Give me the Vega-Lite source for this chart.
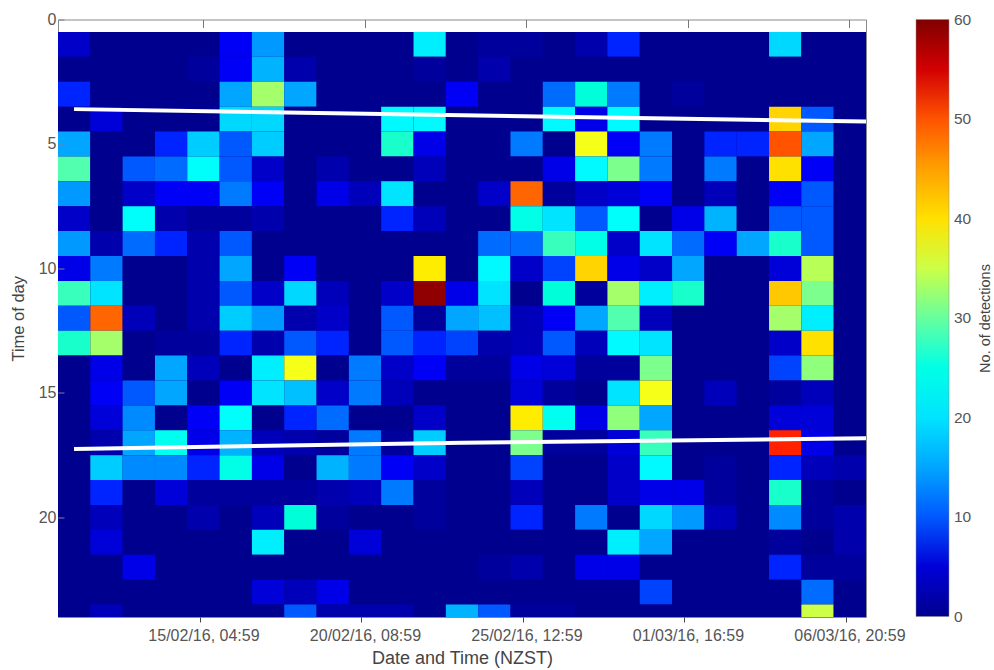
{"$schema":"https://vega.github.io/schema/vega-lite/v6.json","width":808,"height":597.5,"autosize":{"type":"none"},"padding":{"left":58,"top":19.5,"right":128,"bottom":53},"background":"white",
"config":{"view":{"stroke":"#8a8a8a","strokeWidth":1},"font":"Liberation Sans"},
"datasets":{
"hours":[{"h":1,"lo":0.5,"hi":1.5},{"h":2,"lo":1.5,"hi":2.5},{"h":3,"lo":2.5,"hi":3.5},{"h":4,"lo":3.5,"hi":4.5},{"h":5,"lo":4.5,"hi":5.5},{"h":6,"lo":5.5,"hi":6.5},{"h":7,"lo":6.5,"hi":7.5},{"h":8,"lo":7.5,"hi":8.5},{"h":9,"lo":8.5,"hi":9.5},{"h":10,"lo":9.5,"hi":10.5},{"h":11,"lo":10.5,"hi":11.5},{"h":12,"lo":11.5,"hi":12.5},{"h":13,"lo":12.5,"hi":13.5},{"h":14,"lo":13.5,"hi":14.5},{"h":15,"lo":14.5,"hi":15.5},{"h":16,"lo":15.5,"hi":16.5},{"h":17,"lo":16.5,"hi":17.5},{"h":18,"lo":17.5,"hi":18.5},{"h":19,"lo":18.5,"hi":19.5},{"h":20,"lo":19.5,"hi":20.5},{"h":21,"lo":20.5,"hi":21.5},{"h":22,"lo":21.5,"hi":22.5},{"h":23,"lo":22.5,"hi":23.5},{"h":24,"lo":23.5,"hi":24}],
"cells":[
{"t":"2016-02-10T13:17","e":"2016-02-11T14:06","h":1,"v":4},{"t":"2016-02-11T14:06","e":"2016-02-12T14:55","h":1,"v":0},{"t":"2016-02-12T14:55","e":"2016-02-13T15:44","h":1,"v":0},{"t":"2016-02-13T15:44","e":"2016-02-14T16:33","h":1,"v":0},{"t":"2016-02-14T16:33","e":"2016-02-15T17:22","h":1,"v":0},{"t":"2016-02-15T17:22","e":"2016-02-16T18:11","h":1,"v":7},{"t":"2016-02-16T18:11","e":"2016-02-17T19:00","h":1,"v":14},{"t":"2016-02-17T19:00","e":"2016-02-18T19:49","h":1,"v":0},{"t":"2016-02-18T19:49","e":"2016-02-19T20:38","h":1,"v":0},{"t":"2016-02-19T20:38","e":"2016-02-20T21:27","h":1,"v":0},{"t":"2016-02-20T21:27","e":"2016-02-21T22:16","h":1,"v":0},{"t":"2016-02-21T22:16","e":"2016-02-22T23:05","h":1,"v":21},{"t":"2016-02-22T23:05","e":"2016-02-23T23:54","h":1,"v":0},{"t":"2016-02-23T23:54","e":"2016-02-25T00:43","h":1,"v":1},{"t":"2016-02-25T00:43","e":"2016-02-26T01:32","h":1,"v":1},{"t":"2016-02-26T01:32","e":"2016-02-27T02:21","h":1,"v":0},{"t":"2016-02-27T02:21","e":"2016-02-28T03:10","h":1,"v":2},{"t":"2016-02-28T03:10","e":"2016-02-29T03:59","h":1,"v":8},{"t":"2016-02-29T03:59","e":"2016-03-01T04:48","h":1,"v":0},{"t":"2016-03-01T04:48","e":"2016-03-02T05:37","h":1,"v":0},{"t":"2016-03-02T05:37","e":"2016-03-03T06:26","h":1,"v":0},{"t":"2016-03-03T06:26","e":"2016-03-04T07:15","h":1,"v":0},{"t":"2016-03-04T07:15","e":"2016-03-05T08:04","h":1,"v":19},{"t":"2016-03-05T08:04","e":"2016-03-06T08:53","h":1,"v":0},{"t":"2016-03-06T08:53","e":"2016-03-07T09:42","h":1,"v":0},
{"t":"2016-02-10T13:17","e":"2016-02-11T14:06","h":2,"v":0},{"t":"2016-02-11T14:06","e":"2016-02-12T14:55","h":2,"v":0},{"t":"2016-02-12T14:55","e":"2016-02-13T15:44","h":2,"v":0},{"t":"2016-02-13T15:44","e":"2016-02-14T16:33","h":2,"v":0},{"t":"2016-02-14T16:33","e":"2016-02-15T17:22","h":2,"v":1},{"t":"2016-02-15T17:22","e":"2016-02-16T18:11","h":2,"v":7},{"t":"2016-02-16T18:11","e":"2016-02-17T19:00","h":2,"v":16},{"t":"2016-02-17T19:00","e":"2016-02-18T19:49","h":2,"v":2},{"t":"2016-02-18T19:49","e":"2016-02-19T20:38","h":2,"v":0},{"t":"2016-02-19T20:38","e":"2016-02-20T21:27","h":2,"v":0},{"t":"2016-02-20T21:27","e":"2016-02-21T22:16","h":2,"v":0},{"t":"2016-02-21T22:16","e":"2016-02-22T23:05","h":2,"v":1},{"t":"2016-02-22T23:05","e":"2016-02-23T23:54","h":2,"v":0},{"t":"2016-02-23T23:54","e":"2016-02-25T00:43","h":2,"v":2},{"t":"2016-02-25T00:43","e":"2016-02-26T01:32","h":2,"v":0},{"t":"2016-02-26T01:32","e":"2016-02-27T02:21","h":2,"v":0},{"t":"2016-02-27T02:21","e":"2016-02-28T03:10","h":2,"v":0},{"t":"2016-02-28T03:10","e":"2016-02-29T03:59","h":2,"v":0},{"t":"2016-02-29T03:59","e":"2016-03-01T04:48","h":2,"v":0},{"t":"2016-03-01T04:48","e":"2016-03-02T05:37","h":2,"v":0},{"t":"2016-03-02T05:37","e":"2016-03-03T06:26","h":2,"v":0},{"t":"2016-03-03T06:26","e":"2016-03-04T07:15","h":2,"v":0},{"t":"2016-03-04T07:15","e":"2016-03-05T08:04","h":2,"v":0},{"t":"2016-03-05T08:04","e":"2016-03-06T08:53","h":2,"v":0},{"t":"2016-03-06T08:53","e":"2016-03-07T09:42","h":2,"v":0},
{"t":"2016-02-10T13:17","e":"2016-02-11T14:06","h":3,"v":8},{"t":"2016-02-11T14:06","e":"2016-02-12T14:55","h":3,"v":0},{"t":"2016-02-12T14:55","e":"2016-02-13T15:44","h":3,"v":0},{"t":"2016-02-13T15:44","e":"2016-02-14T16:33","h":3,"v":0},{"t":"2016-02-14T16:33","e":"2016-02-15T17:22","h":3,"v":0},{"t":"2016-02-15T17:22","e":"2016-02-16T18:11","h":3,"v":15},{"t":"2016-02-16T18:11","e":"2016-02-17T19:00","h":3,"v":33},{"t":"2016-02-17T19:00","e":"2016-02-18T19:49","h":3,"v":15},{"t":"2016-02-18T19:49","e":"2016-02-19T20:38","h":3,"v":0},{"t":"2016-02-19T20:38","e":"2016-02-20T21:27","h":3,"v":0},{"t":"2016-02-20T21:27","e":"2016-02-21T22:16","h":3,"v":0},{"t":"2016-02-21T22:16","e":"2016-02-22T23:05","h":3,"v":0},{"t":"2016-02-22T23:05","e":"2016-02-23T23:54","h":3,"v":7},{"t":"2016-02-23T23:54","e":"2016-02-25T00:43","h":3,"v":0},{"t":"2016-02-25T00:43","e":"2016-02-26T01:32","h":3,"v":0},{"t":"2016-02-26T01:32","e":"2016-02-27T02:21","h":3,"v":11},{"t":"2016-02-27T02:21","e":"2016-02-28T03:10","h":3,"v":26},{"t":"2016-02-28T03:10","e":"2016-02-29T03:59","h":3,"v":12},{"t":"2016-02-29T03:59","e":"2016-03-01T04:48","h":3,"v":0},{"t":"2016-03-01T04:48","e":"2016-03-02T05:37","h":3,"v":1},{"t":"2016-03-02T05:37","e":"2016-03-03T06:26","h":3,"v":0},{"t":"2016-03-03T06:26","e":"2016-03-04T07:15","h":3,"v":0},{"t":"2016-03-04T07:15","e":"2016-03-05T08:04","h":3,"v":0},{"t":"2016-03-05T08:04","e":"2016-03-06T08:53","h":3,"v":0},{"t":"2016-03-06T08:53","e":"2016-03-07T09:42","h":3,"v":0},
{"t":"2016-02-10T13:17","e":"2016-02-11T14:06","h":4,"v":0},{"t":"2016-02-11T14:06","e":"2016-02-12T14:55","h":4,"v":5},{"t":"2016-02-12T14:55","e":"2016-02-13T15:44","h":4,"v":0},{"t":"2016-02-13T15:44","e":"2016-02-14T16:33","h":4,"v":0},{"t":"2016-02-14T16:33","e":"2016-02-15T17:22","h":4,"v":0},{"t":"2016-02-15T17:22","e":"2016-02-16T18:11","h":4,"v":19},{"t":"2016-02-16T18:11","e":"2016-02-17T19:00","h":4,"v":19},{"t":"2016-02-17T19:00","e":"2016-02-18T19:49","h":4,"v":0},{"t":"2016-02-18T19:49","e":"2016-02-19T20:38","h":4,"v":0},{"t":"2016-02-19T20:38","e":"2016-02-20T21:27","h":4,"v":0},{"t":"2016-02-20T21:27","e":"2016-02-21T22:16","h":4,"v":22},{"t":"2016-02-21T22:16","e":"2016-02-22T23:05","h":4,"v":22},{"t":"2016-02-22T23:05","e":"2016-02-23T23:54","h":4,"v":0},{"t":"2016-02-23T23:54","e":"2016-02-25T00:43","h":4,"v":0},{"t":"2016-02-25T00:43","e":"2016-02-26T01:32","h":4,"v":0},{"t":"2016-02-26T01:32","e":"2016-02-27T02:21","h":4,"v":22},{"t":"2016-02-27T02:21","e":"2016-02-28T03:10","h":4,"v":6},{"t":"2016-02-28T03:10","e":"2016-02-29T03:59","h":4,"v":22},{"t":"2016-02-29T03:59","e":"2016-03-01T04:48","h":4,"v":0},{"t":"2016-03-01T04:48","e":"2016-03-02T05:37","h":4,"v":0},{"t":"2016-03-02T05:37","e":"2016-03-03T06:26","h":4,"v":0},{"t":"2016-03-03T06:26","e":"2016-03-04T07:15","h":4,"v":0},{"t":"2016-03-04T07:15","e":"2016-03-05T08:04","h":4,"v":41},{"t":"2016-03-05T08:04","e":"2016-03-06T08:53","h":4,"v":10},{"t":"2016-03-06T08:53","e":"2016-03-07T09:42","h":4,"v":0},
{"t":"2016-02-10T13:17","e":"2016-02-11T14:06","h":5,"v":15},{"t":"2016-02-11T14:06","e":"2016-02-12T14:55","h":5,"v":0},{"t":"2016-02-12T14:55","e":"2016-02-13T15:44","h":5,"v":0},{"t":"2016-02-13T15:44","e":"2016-02-14T16:33","h":5,"v":8},{"t":"2016-02-14T16:33","e":"2016-02-15T17:22","h":5,"v":18},{"t":"2016-02-15T17:22","e":"2016-02-16T18:11","h":5,"v":10},{"t":"2016-02-16T18:11","e":"2016-02-17T19:00","h":5,"v":18},{"t":"2016-02-17T19:00","e":"2016-02-18T19:49","h":5,"v":0},{"t":"2016-02-18T19:49","e":"2016-02-19T20:38","h":5,"v":0},{"t":"2016-02-19T20:38","e":"2016-02-20T21:27","h":5,"v":0},{"t":"2016-02-20T21:27","e":"2016-02-21T22:16","h":5,"v":27},{"t":"2016-02-21T22:16","e":"2016-02-22T23:05","h":5,"v":6},{"t":"2016-02-22T23:05","e":"2016-02-23T23:54","h":5,"v":0},{"t":"2016-02-23T23:54","e":"2016-02-25T00:43","h":5,"v":0},{"t":"2016-02-25T00:43","e":"2016-02-26T01:32","h":5,"v":12},{"t":"2016-02-26T01:32","e":"2016-02-27T02:21","h":5,"v":0},{"t":"2016-02-27T02:21","e":"2016-02-28T03:10","h":5,"v":37},{"t":"2016-02-28T03:10","e":"2016-02-29T03:59","h":5,"v":7},{"t":"2016-02-29T03:59","e":"2016-03-01T04:48","h":5,"v":12},{"t":"2016-03-01T04:48","e":"2016-03-02T05:37","h":5,"v":0},{"t":"2016-03-02T05:37","e":"2016-03-03T06:26","h":5,"v":8},{"t":"2016-03-03T06:26","e":"2016-03-04T07:15","h":5,"v":8},{"t":"2016-03-04T07:15","e":"2016-03-05T08:04","h":5,"v":50},{"t":"2016-03-05T08:04","e":"2016-03-06T08:53","h":5,"v":15},{"t":"2016-03-06T08:53","e":"2016-03-07T09:42","h":5,"v":0},
{"t":"2016-02-10T13:17","e":"2016-02-11T14:06","h":6,"v":29},{"t":"2016-02-11T14:06","e":"2016-02-12T14:55","h":6,"v":0},{"t":"2016-02-12T14:55","e":"2016-02-13T15:44","h":6,"v":10},{"t":"2016-02-13T15:44","e":"2016-02-14T16:33","h":6,"v":11},{"t":"2016-02-14T16:33","e":"2016-02-15T17:22","h":6,"v":23},{"t":"2016-02-15T17:22","e":"2016-02-16T18:11","h":6,"v":10},{"t":"2016-02-16T18:11","e":"2016-02-17T19:00","h":6,"v":4},{"t":"2016-02-17T19:00","e":"2016-02-18T19:49","h":6,"v":0},{"t":"2016-02-18T19:49","e":"2016-02-19T20:38","h":6,"v":2},{"t":"2016-02-19T20:38","e":"2016-02-20T21:27","h":6,"v":0},{"t":"2016-02-20T21:27","e":"2016-02-21T22:16","h":6,"v":0},{"t":"2016-02-21T22:16","e":"2016-02-22T23:05","h":6,"v":3},{"t":"2016-02-22T23:05","e":"2016-02-23T23:54","h":6,"v":0},{"t":"2016-02-23T23:54","e":"2016-02-25T00:43","h":6,"v":0},{"t":"2016-02-25T00:43","e":"2016-02-26T01:32","h":6,"v":0},{"t":"2016-02-26T01:32","e":"2016-02-27T02:21","h":6,"v":6},{"t":"2016-02-27T02:21","e":"2016-02-28T03:10","h":6,"v":22},{"t":"2016-02-28T03:10","e":"2016-02-29T03:59","h":6,"v":31},{"t":"2016-02-29T03:59","e":"2016-03-01T04:48","h":6,"v":12},{"t":"2016-03-01T04:48","e":"2016-03-02T05:37","h":6,"v":0},{"t":"2016-03-02T05:37","e":"2016-03-03T06:26","h":6,"v":12},{"t":"2016-03-03T06:26","e":"2016-03-04T07:15","h":6,"v":0},{"t":"2016-03-04T07:15","e":"2016-03-05T08:04","h":6,"v":40},{"t":"2016-03-05T08:04","e":"2016-03-06T08:53","h":6,"v":7},{"t":"2016-03-06T08:53","e":"2016-03-07T09:42","h":6,"v":0},
{"t":"2016-02-10T13:17","e":"2016-02-11T14:06","h":7,"v":14},{"t":"2016-02-11T14:06","e":"2016-02-12T14:55","h":7,"v":0},{"t":"2016-02-12T14:55","e":"2016-02-13T15:44","h":7,"v":4},{"t":"2016-02-13T15:44","e":"2016-02-14T16:33","h":7,"v":7},{"t":"2016-02-14T16:33","e":"2016-02-15T17:22","h":7,"v":7},{"t":"2016-02-15T17:22","e":"2016-02-16T18:11","h":7,"v":12},{"t":"2016-02-16T18:11","e":"2016-02-17T19:00","h":7,"v":7},{"t":"2016-02-17T19:00","e":"2016-02-18T19:49","h":7,"v":0},{"t":"2016-02-18T19:49","e":"2016-02-19T20:38","h":7,"v":6},{"t":"2016-02-19T20:38","e":"2016-02-20T21:27","h":7,"v":3},{"t":"2016-02-20T21:27","e":"2016-02-21T22:16","h":7,"v":20},{"t":"2016-02-21T22:16","e":"2016-02-22T23:05","h":7,"v":0},{"t":"2016-02-22T23:05","e":"2016-02-23T23:54","h":7,"v":0},{"t":"2016-02-23T23:54","e":"2016-02-25T00:43","h":7,"v":4},{"t":"2016-02-25T00:43","e":"2016-02-26T01:32","h":7,"v":49},{"t":"2016-02-26T01:32","e":"2016-02-27T02:21","h":7,"v":1},{"t":"2016-02-27T02:21","e":"2016-02-28T03:10","h":7,"v":4},{"t":"2016-02-28T03:10","e":"2016-02-29T03:59","h":7,"v":5},{"t":"2016-02-29T03:59","e":"2016-03-01T04:48","h":7,"v":7},{"t":"2016-03-01T04:48","e":"2016-03-02T05:37","h":7,"v":0},{"t":"2016-03-02T05:37","e":"2016-03-03T06:26","h":7,"v":3},{"t":"2016-03-03T06:26","e":"2016-03-04T07:15","h":7,"v":0},{"t":"2016-03-04T07:15","e":"2016-03-05T08:04","h":7,"v":7},{"t":"2016-03-05T08:04","e":"2016-03-06T08:53","h":7,"v":10},{"t":"2016-03-06T08:53","e":"2016-03-07T09:42","h":7,"v":0},
{"t":"2016-02-10T13:17","e":"2016-02-11T14:06","h":8,"v":4},{"t":"2016-02-11T14:06","e":"2016-02-12T14:55","h":8,"v":0},{"t":"2016-02-12T14:55","e":"2016-02-13T15:44","h":8,"v":23},{"t":"2016-02-13T15:44","e":"2016-02-14T16:33","h":8,"v":2},{"t":"2016-02-14T16:33","e":"2016-02-15T17:22","h":8,"v":1},{"t":"2016-02-15T17:22","e":"2016-02-16T18:11","h":8,"v":1},{"t":"2016-02-16T18:11","e":"2016-02-17T19:00","h":8,"v":2},{"t":"2016-02-17T19:00","e":"2016-02-18T19:49","h":8,"v":0},{"t":"2016-02-18T19:49","e":"2016-02-19T20:38","h":8,"v":0},{"t":"2016-02-19T20:38","e":"2016-02-20T21:27","h":8,"v":0},{"t":"2016-02-20T21:27","e":"2016-02-21T22:16","h":8,"v":8},{"t":"2016-02-21T22:16","e":"2016-02-22T23:05","h":8,"v":3},{"t":"2016-02-22T23:05","e":"2016-02-23T23:54","h":8,"v":0},{"t":"2016-02-23T23:54","e":"2016-02-25T00:43","h":8,"v":0},{"t":"2016-02-25T00:43","e":"2016-02-26T01:32","h":8,"v":25},{"t":"2016-02-26T01:32","e":"2016-02-27T02:21","h":8,"v":20},{"t":"2016-02-27T02:21","e":"2016-02-28T03:10","h":8,"v":10},{"t":"2016-02-28T03:10","e":"2016-02-29T03:59","h":8,"v":23},{"t":"2016-02-29T03:59","e":"2016-03-01T04:48","h":8,"v":0},{"t":"2016-03-01T04:48","e":"2016-03-02T05:37","h":8,"v":6},{"t":"2016-03-02T05:37","e":"2016-03-03T06:26","h":8,"v":16},{"t":"2016-03-03T06:26","e":"2016-03-04T07:15","h":8,"v":0},{"t":"2016-03-04T07:15","e":"2016-03-05T08:04","h":8,"v":10},{"t":"2016-03-05T08:04","e":"2016-03-06T08:53","h":8,"v":10},{"t":"2016-03-06T08:53","e":"2016-03-07T09:42","h":8,"v":0},
{"t":"2016-02-10T13:17","e":"2016-02-11T14:06","h":9,"v":14},{"t":"2016-02-11T14:06","e":"2016-02-12T14:55","h":9,"v":2},{"t":"2016-02-12T14:55","e":"2016-02-13T15:44","h":9,"v":11},{"t":"2016-02-13T15:44","e":"2016-02-14T16:33","h":9,"v":8},{"t":"2016-02-14T16:33","e":"2016-02-15T17:22","h":9,"v":2},{"t":"2016-02-15T17:22","e":"2016-02-16T18:11","h":9,"v":10},{"t":"2016-02-16T18:11","e":"2016-02-17T19:00","h":9,"v":0},{"t":"2016-02-17T19:00","e":"2016-02-18T19:49","h":9,"v":0},{"t":"2016-02-18T19:49","e":"2016-02-19T20:38","h":9,"v":0},{"t":"2016-02-19T20:38","e":"2016-02-20T21:27","h":9,"v":0},{"t":"2016-02-20T21:27","e":"2016-02-21T22:16","h":9,"v":0},{"t":"2016-02-21T22:16","e":"2016-02-22T23:05","h":9,"v":0},{"t":"2016-02-22T23:05","e":"2016-02-23T23:54","h":9,"v":0},{"t":"2016-02-23T23:54","e":"2016-02-25T00:43","h":9,"v":11},{"t":"2016-02-25T00:43","e":"2016-02-26T01:32","h":9,"v":11},{"t":"2016-02-26T01:32","e":"2016-02-27T02:21","h":9,"v":28},{"t":"2016-02-27T02:21","e":"2016-02-28T03:10","h":9,"v":25},{"t":"2016-02-28T03:10","e":"2016-02-29T03:59","h":9,"v":4},{"t":"2016-02-29T03:59","e":"2016-03-01T04:48","h":9,"v":20},{"t":"2016-03-01T04:48","e":"2016-03-02T05:37","h":9,"v":11},{"t":"2016-03-02T05:37","e":"2016-03-03T06:26","h":9,"v":7},{"t":"2016-03-03T06:26","e":"2016-03-04T07:15","h":9,"v":15},{"t":"2016-03-04T07:15","e":"2016-03-05T08:04","h":9,"v":27},{"t":"2016-03-05T08:04","e":"2016-03-06T08:53","h":9,"v":10},{"t":"2016-03-06T08:53","e":"2016-03-07T09:42","h":9,"v":0},
{"t":"2016-02-10T13:17","e":"2016-02-11T14:06","h":10,"v":6},{"t":"2016-02-11T14:06","e":"2016-02-12T14:55","h":10,"v":12},{"t":"2016-02-12T14:55","e":"2016-02-13T15:44","h":10,"v":0},{"t":"2016-02-13T15:44","e":"2016-02-14T16:33","h":10,"v":0},{"t":"2016-02-14T16:33","e":"2016-02-15T17:22","h":10,"v":2},{"t":"2016-02-15T17:22","e":"2016-02-16T18:11","h":10,"v":15},{"t":"2016-02-16T18:11","e":"2016-02-17T19:00","h":10,"v":0},{"t":"2016-02-17T19:00","e":"2016-02-18T19:49","h":10,"v":7},{"t":"2016-02-18T19:49","e":"2016-02-19T20:38","h":10,"v":0},{"t":"2016-02-19T20:38","e":"2016-02-20T21:27","h":10,"v":0},{"t":"2016-02-20T21:27","e":"2016-02-21T22:16","h":10,"v":0},{"t":"2016-02-21T22:16","e":"2016-02-22T23:05","h":10,"v":39},{"t":"2016-02-22T23:05","e":"2016-02-23T23:54","h":10,"v":0},{"t":"2016-02-23T23:54","e":"2016-02-25T00:43","h":10,"v":22},{"t":"2016-02-25T00:43","e":"2016-02-26T01:32","h":10,"v":4},{"t":"2016-02-26T01:32","e":"2016-02-27T02:21","h":10,"v":9},{"t":"2016-02-27T02:21","e":"2016-02-28T03:10","h":10,"v":41},{"t":"2016-02-28T03:10","e":"2016-02-29T03:59","h":10,"v":6},{"t":"2016-02-29T03:59","e":"2016-03-01T04:48","h":10,"v":4},{"t":"2016-03-01T04:48","e":"2016-03-02T05:37","h":10,"v":15},{"t":"2016-03-02T05:37","e":"2016-03-03T06:26","h":10,"v":0},{"t":"2016-03-03T06:26","e":"2016-03-04T07:15","h":10,"v":0},{"t":"2016-03-04T07:15","e":"2016-03-05T08:04","h":10,"v":5},{"t":"2016-03-05T08:04","e":"2016-03-06T08:53","h":10,"v":34},{"t":"2016-03-06T08:53","e":"2016-03-07T09:42","h":10,"v":0},
{"t":"2016-02-10T13:17","e":"2016-02-11T14:06","h":11,"v":28},{"t":"2016-02-11T14:06","e":"2016-02-12T14:55","h":11,"v":20},{"t":"2016-02-12T14:55","e":"2016-02-13T15:44","h":11,"v":0},{"t":"2016-02-13T15:44","e":"2016-02-14T16:33","h":11,"v":0},{"t":"2016-02-14T16:33","e":"2016-02-15T17:22","h":11,"v":2},{"t":"2016-02-15T17:22","e":"2016-02-16T18:11","h":11,"v":10},{"t":"2016-02-16T18:11","e":"2016-02-17T19:00","h":11,"v":4},{"t":"2016-02-17T19:00","e":"2016-02-18T19:49","h":11,"v":19},{"t":"2016-02-18T19:49","e":"2016-02-19T20:38","h":11,"v":3},{"t":"2016-02-19T20:38","e":"2016-02-20T21:27","h":11,"v":0},{"t":"2016-02-20T21:27","e":"2016-02-21T22:16","h":11,"v":4},{"t":"2016-02-21T22:16","e":"2016-02-22T23:05","h":11,"v":59},{"t":"2016-02-22T23:05","e":"2016-02-23T23:54","h":11,"v":6},{"t":"2016-02-23T23:54","e":"2016-02-25T00:43","h":11,"v":20},{"t":"2016-02-25T00:43","e":"2016-02-26T01:32","h":11,"v":0},{"t":"2016-02-26T01:32","e":"2016-02-27T02:21","h":11,"v":26},{"t":"2016-02-27T02:21","e":"2016-02-28T03:10","h":11,"v":1},{"t":"2016-02-28T03:10","e":"2016-02-29T03:59","h":11,"v":33},{"t":"2016-02-29T03:59","e":"2016-03-01T04:48","h":11,"v":21},{"t":"2016-03-01T04:48","e":"2016-03-02T05:37","h":11,"v":27},{"t":"2016-03-02T05:37","e":"2016-03-03T06:26","h":11,"v":0},{"t":"2016-03-03T06:26","e":"2016-03-04T07:15","h":11,"v":0},{"t":"2016-03-04T07:15","e":"2016-03-05T08:04","h":11,"v":42},{"t":"2016-03-05T08:04","e":"2016-03-06T08:53","h":11,"v":31},{"t":"2016-03-06T08:53","e":"2016-03-07T09:42","h":11,"v":0},
{"t":"2016-02-10T13:17","e":"2016-02-11T14:06","h":12,"v":10},{"t":"2016-02-11T14:06","e":"2016-02-12T14:55","h":12,"v":49},{"t":"2016-02-12T14:55","e":"2016-02-13T15:44","h":12,"v":3},{"t":"2016-02-13T15:44","e":"2016-02-14T16:33","h":12,"v":0},{"t":"2016-02-14T16:33","e":"2016-02-15T17:22","h":12,"v":2},{"t":"2016-02-15T17:22","e":"2016-02-16T18:11","h":12,"v":18},{"t":"2016-02-16T18:11","e":"2016-02-17T19:00","h":12,"v":14},{"t":"2016-02-17T19:00","e":"2016-02-18T19:49","h":12,"v":2},{"t":"2016-02-18T19:49","e":"2016-02-19T20:38","h":12,"v":4},{"t":"2016-02-19T20:38","e":"2016-02-20T21:27","h":12,"v":0},{"t":"2016-02-20T21:27","e":"2016-02-21T22:16","h":12,"v":10},{"t":"2016-02-21T22:16","e":"2016-02-22T23:05","h":12,"v":1},{"t":"2016-02-22T23:05","e":"2016-02-23T23:54","h":12,"v":15},{"t":"2016-02-23T23:54","e":"2016-02-25T00:43","h":12,"v":17},{"t":"2016-02-25T00:43","e":"2016-02-26T01:32","h":12,"v":3},{"t":"2016-02-26T01:32","e":"2016-02-27T02:21","h":12,"v":7},{"t":"2016-02-27T02:21","e":"2016-02-28T03:10","h":12,"v":15},{"t":"2016-02-28T03:10","e":"2016-02-29T03:59","h":12,"v":29},{"t":"2016-02-29T03:59","e":"2016-03-01T04:48","h":12,"v":3},{"t":"2016-03-01T04:48","e":"2016-03-02T05:37","h":12,"v":0},{"t":"2016-03-02T05:37","e":"2016-03-03T06:26","h":12,"v":0},{"t":"2016-03-03T06:26","e":"2016-03-04T07:15","h":12,"v":0},{"t":"2016-03-04T07:15","e":"2016-03-05T08:04","h":12,"v":33},{"t":"2016-03-05T08:04","e":"2016-03-06T08:53","h":12,"v":21},{"t":"2016-03-06T08:53","e":"2016-03-07T09:42","h":12,"v":0},
{"t":"2016-02-10T13:17","e":"2016-02-11T14:06","h":13,"v":27},{"t":"2016-02-11T14:06","e":"2016-02-12T14:55","h":13,"v":33},{"t":"2016-02-12T14:55","e":"2016-02-13T15:44","h":13,"v":0},{"t":"2016-02-13T15:44","e":"2016-02-14T16:33","h":13,"v":1},{"t":"2016-02-14T16:33","e":"2016-02-15T17:22","h":13,"v":1},{"t":"2016-02-15T17:22","e":"2016-02-16T18:11","h":13,"v":8},{"t":"2016-02-16T18:11","e":"2016-02-17T19:00","h":13,"v":2},{"t":"2016-02-17T19:00","e":"2016-02-18T19:49","h":13,"v":10},{"t":"2016-02-18T19:49","e":"2016-02-19T20:38","h":13,"v":8},{"t":"2016-02-19T20:38","e":"2016-02-20T21:27","h":13,"v":0},{"t":"2016-02-20T21:27","e":"2016-02-21T22:16","h":13,"v":10},{"t":"2016-02-21T22:16","e":"2016-02-22T23:05","h":13,"v":8},{"t":"2016-02-22T23:05","e":"2016-02-23T23:54","h":13,"v":9},{"t":"2016-02-23T23:54","e":"2016-02-25T00:43","h":13,"v":2},{"t":"2016-02-25T00:43","e":"2016-02-26T01:32","h":13,"v":3},{"t":"2016-02-26T01:32","e":"2016-02-27T02:21","h":13,"v":10},{"t":"2016-02-27T02:21","e":"2016-02-28T03:10","h":13,"v":3},{"t":"2016-02-28T03:10","e":"2016-02-29T03:59","h":13,"v":22},{"t":"2016-02-29T03:59","e":"2016-03-01T04:48","h":13,"v":20},{"t":"2016-03-01T04:48","e":"2016-03-02T05:37","h":13,"v":0},{"t":"2016-03-02T05:37","e":"2016-03-03T06:26","h":13,"v":0},{"t":"2016-03-03T06:26","e":"2016-03-04T07:15","h":13,"v":0},{"t":"2016-03-04T07:15","e":"2016-03-05T08:04","h":13,"v":4},{"t":"2016-03-05T08:04","e":"2016-03-06T08:53","h":13,"v":40},{"t":"2016-03-06T08:53","e":"2016-03-07T09:42","h":13,"v":0},
{"t":"2016-02-10T13:17","e":"2016-02-11T14:06","h":14,"v":0},{"t":"2016-02-11T14:06","e":"2016-02-12T14:55","h":14,"v":6},{"t":"2016-02-12T14:55","e":"2016-02-13T15:44","h":14,"v":0},{"t":"2016-02-13T15:44","e":"2016-02-14T16:33","h":14,"v":15},{"t":"2016-02-14T16:33","e":"2016-02-15T17:22","h":14,"v":3},{"t":"2016-02-15T17:22","e":"2016-02-16T18:11","h":14,"v":0},{"t":"2016-02-16T18:11","e":"2016-02-17T19:00","h":14,"v":21},{"t":"2016-02-17T19:00","e":"2016-02-18T19:49","h":14,"v":37},{"t":"2016-02-18T19:49","e":"2016-02-19T20:38","h":14,"v":0},{"t":"2016-02-19T20:38","e":"2016-02-20T21:27","h":14,"v":12},{"t":"2016-02-20T21:27","e":"2016-02-21T22:16","h":14,"v":4},{"t":"2016-02-21T22:16","e":"2016-02-22T23:05","h":14,"v":7},{"t":"2016-02-22T23:05","e":"2016-02-23T23:54","h":14,"v":1},{"t":"2016-02-23T23:54","e":"2016-02-25T00:43","h":14,"v":1},{"t":"2016-02-25T00:43","e":"2016-02-26T01:32","h":14,"v":6},{"t":"2016-02-26T01:32","e":"2016-02-27T02:21","h":14,"v":5},{"t":"2016-02-27T02:21","e":"2016-02-28T03:10","h":14,"v":1},{"t":"2016-02-28T03:10","e":"2016-02-29T03:59","h":14,"v":1},{"t":"2016-02-29T03:59","e":"2016-03-01T04:48","h":14,"v":31},{"t":"2016-03-01T04:48","e":"2016-03-02T05:37","h":14,"v":0},{"t":"2016-03-02T05:37","e":"2016-03-03T06:26","h":14,"v":0},{"t":"2016-03-03T06:26","e":"2016-03-04T07:15","h":14,"v":0},{"t":"2016-03-04T07:15","e":"2016-03-05T08:04","h":14,"v":9},{"t":"2016-03-05T08:04","e":"2016-03-06T08:53","h":14,"v":32},{"t":"2016-03-06T08:53","e":"2016-03-07T09:42","h":14,"v":0},
{"t":"2016-02-10T13:17","e":"2016-02-11T14:06","h":15,"v":0},{"t":"2016-02-11T14:06","e":"2016-02-12T14:55","h":15,"v":7},{"t":"2016-02-12T14:55","e":"2016-02-13T15:44","h":15,"v":10},{"t":"2016-02-13T15:44","e":"2016-02-14T16:33","h":15,"v":15},{"t":"2016-02-14T16:33","e":"2016-02-15T17:22","h":15,"v":0},{"t":"2016-02-15T17:22","e":"2016-02-16T18:11","h":15,"v":7},{"t":"2016-02-16T18:11","e":"2016-02-17T19:00","h":15,"v":20},{"t":"2016-02-17T19:00","e":"2016-02-18T19:49","h":15,"v":17},{"t":"2016-02-18T19:49","e":"2016-02-19T20:38","h":15,"v":4},{"t":"2016-02-19T20:38","e":"2016-02-20T21:27","h":15,"v":12},{"t":"2016-02-20T21:27","e":"2016-02-21T22:16","h":15,"v":3},{"t":"2016-02-21T22:16","e":"2016-02-22T23:05","h":15,"v":0},{"t":"2016-02-22T23:05","e":"2016-02-23T23:54","h":15,"v":0},{"t":"2016-02-23T23:54","e":"2016-02-25T00:43","h":15,"v":0},{"t":"2016-02-25T00:43","e":"2016-02-26T01:32","h":15,"v":5},{"t":"2016-02-26T01:32","e":"2016-02-27T02:21","h":15,"v":1},{"t":"2016-02-27T02:21","e":"2016-02-28T03:10","h":15,"v":0},{"t":"2016-02-28T03:10","e":"2016-02-29T03:59","h":15,"v":20},{"t":"2016-02-29T03:59","e":"2016-03-01T04:48","h":15,"v":37},{"t":"2016-03-01T04:48","e":"2016-03-02T05:37","h":15,"v":0},{"t":"2016-03-02T05:37","e":"2016-03-03T06:26","h":15,"v":3},{"t":"2016-03-03T06:26","e":"2016-03-04T07:15","h":15,"v":0},{"t":"2016-03-04T07:15","e":"2016-03-05T08:04","h":15,"v":1},{"t":"2016-03-05T08:04","e":"2016-03-06T08:53","h":15,"v":3},{"t":"2016-03-06T08:53","e":"2016-03-07T09:42","h":15,"v":0},
{"t":"2016-02-10T13:17","e":"2016-02-11T14:06","h":16,"v":0},{"t":"2016-02-11T14:06","e":"2016-02-12T14:55","h":16,"v":5},{"t":"2016-02-12T14:55","e":"2016-02-13T15:44","h":16,"v":13},{"t":"2016-02-13T15:44","e":"2016-02-14T16:33","h":16,"v":0},{"t":"2016-02-14T16:33","e":"2016-02-15T17:22","h":16,"v":7},{"t":"2016-02-15T17:22","e":"2016-02-16T18:11","h":16,"v":23},{"t":"2016-02-16T18:11","e":"2016-02-17T19:00","h":16,"v":0},{"t":"2016-02-17T19:00","e":"2016-02-18T19:49","h":16,"v":8},{"t":"2016-02-18T19:49","e":"2016-02-19T20:38","h":16,"v":11},{"t":"2016-02-19T20:38","e":"2016-02-20T21:27","h":16,"v":0},{"t":"2016-02-20T21:27","e":"2016-02-21T22:16","h":16,"v":0},{"t":"2016-02-21T22:16","e":"2016-02-22T23:05","h":16,"v":4},{"t":"2016-02-22T23:05","e":"2016-02-23T23:54","h":16,"v":0},{"t":"2016-02-23T23:54","e":"2016-02-25T00:43","h":16,"v":0},{"t":"2016-02-25T00:43","e":"2016-02-26T01:32","h":16,"v":39},{"t":"2016-02-26T01:32","e":"2016-02-27T02:21","h":16,"v":24},{"t":"2016-02-27T02:21","e":"2016-02-28T03:10","h":16,"v":6},{"t":"2016-02-28T03:10","e":"2016-02-29T03:59","h":16,"v":32},{"t":"2016-02-29T03:59","e":"2016-03-01T04:48","h":16,"v":15},{"t":"2016-03-01T04:48","e":"2016-03-02T05:37","h":16,"v":0},{"t":"2016-03-02T05:37","e":"2016-03-03T06:26","h":16,"v":0},{"t":"2016-03-03T06:26","e":"2016-03-04T07:15","h":16,"v":0},{"t":"2016-03-04T07:15","e":"2016-03-05T08:04","h":16,"v":5},{"t":"2016-03-05T08:04","e":"2016-03-06T08:53","h":16,"v":5},{"t":"2016-03-06T08:53","e":"2016-03-07T09:42","h":16,"v":0},
{"t":"2016-02-10T13:17","e":"2016-02-11T14:06","h":17,"v":0},{"t":"2016-02-11T14:06","e":"2016-02-12T14:55","h":17,"v":2},{"t":"2016-02-12T14:55","e":"2016-02-13T15:44","h":17,"v":15},{"t":"2016-02-13T15:44","e":"2016-02-14T16:33","h":17,"v":24},{"t":"2016-02-14T16:33","e":"2016-02-15T17:22","h":17,"v":6},{"t":"2016-02-15T17:22","e":"2016-02-16T18:11","h":17,"v":16},{"t":"2016-02-16T18:11","e":"2016-02-17T19:00","h":17,"v":3},{"t":"2016-02-17T19:00","e":"2016-02-18T19:49","h":17,"v":2},{"t":"2016-02-18T19:49","e":"2016-02-19T20:38","h":17,"v":1},{"t":"2016-02-19T20:38","e":"2016-02-20T21:27","h":17,"v":12},{"t":"2016-02-20T21:27","e":"2016-02-21T22:16","h":17,"v":1},{"t":"2016-02-21T22:16","e":"2016-02-22T23:05","h":17,"v":18},{"t":"2016-02-22T23:05","e":"2016-02-23T23:54","h":17,"v":0},{"t":"2016-02-23T23:54","e":"2016-02-25T00:43","h":17,"v":0},{"t":"2016-02-25T00:43","e":"2016-02-26T01:32","h":17,"v":31},{"t":"2016-02-26T01:32","e":"2016-02-27T02:21","h":17,"v":1},{"t":"2016-02-27T02:21","e":"2016-02-28T03:10","h":17,"v":1},{"t":"2016-02-28T03:10","e":"2016-02-29T03:59","h":17,"v":5},{"t":"2016-02-29T03:59","e":"2016-03-01T04:48","h":17,"v":28},{"t":"2016-03-01T04:48","e":"2016-03-02T05:37","h":17,"v":0},{"t":"2016-03-02T05:37","e":"2016-03-03T06:26","h":17,"v":0},{"t":"2016-03-03T06:26","e":"2016-03-04T07:15","h":17,"v":0},{"t":"2016-03-04T07:15","e":"2016-03-05T08:04","h":17,"v":52},{"t":"2016-03-05T08:04","e":"2016-03-06T08:53","h":17,"v":6},{"t":"2016-03-06T08:53","e":"2016-03-07T09:42","h":17,"v":0},
{"t":"2016-02-10T13:17","e":"2016-02-11T14:06","h":18,"v":0},{"t":"2016-02-11T14:06","e":"2016-02-12T14:55","h":18,"v":18},{"t":"2016-02-12T14:55","e":"2016-02-13T15:44","h":18,"v":13},{"t":"2016-02-13T15:44","e":"2016-02-14T16:33","h":18,"v":13},{"t":"2016-02-14T16:33","e":"2016-02-15T17:22","h":18,"v":8},{"t":"2016-02-15T17:22","e":"2016-02-16T18:11","h":18,"v":25},{"t":"2016-02-16T18:11","e":"2016-02-17T19:00","h":18,"v":6},{"t":"2016-02-17T19:00","e":"2016-02-18T19:49","h":18,"v":0},{"t":"2016-02-18T19:49","e":"2016-02-19T20:38","h":18,"v":16},{"t":"2016-02-19T20:38","e":"2016-02-20T21:27","h":18,"v":12},{"t":"2016-02-20T21:27","e":"2016-02-21T22:16","h":18,"v":7},{"t":"2016-02-21T22:16","e":"2016-02-22T23:05","h":18,"v":4},{"t":"2016-02-22T23:05","e":"2016-02-23T23:54","h":18,"v":0},{"t":"2016-02-23T23:54","e":"2016-02-25T00:43","h":18,"v":0},{"t":"2016-02-25T00:43","e":"2016-02-26T01:32","h":18,"v":9},{"t":"2016-02-26T01:32","e":"2016-02-27T02:21","h":18,"v":0},{"t":"2016-02-27T02:21","e":"2016-02-28T03:10","h":18,"v":0},{"t":"2016-02-28T03:10","e":"2016-02-29T03:59","h":18,"v":4},{"t":"2016-02-29T03:59","e":"2016-03-01T04:48","h":18,"v":22},{"t":"2016-03-01T04:48","e":"2016-03-02T05:37","h":18,"v":0},{"t":"2016-03-02T05:37","e":"2016-03-03T06:26","h":18,"v":1},{"t":"2016-03-03T06:26","e":"2016-03-04T07:15","h":18,"v":0},{"t":"2016-03-04T07:15","e":"2016-03-05T08:04","h":18,"v":8},{"t":"2016-03-05T08:04","e":"2016-03-06T08:53","h":18,"v":3},{"t":"2016-03-06T08:53","e":"2016-03-07T09:42","h":18,"v":2},
{"t":"2016-02-10T13:17","e":"2016-02-11T14:06","h":19,"v":0},{"t":"2016-02-11T14:06","e":"2016-02-12T14:55","h":19,"v":8},{"t":"2016-02-12T14:55","e":"2016-02-13T15:44","h":19,"v":0},{"t":"2016-02-13T15:44","e":"2016-02-14T16:33","h":19,"v":5},{"t":"2016-02-14T16:33","e":"2016-02-15T17:22","h":19,"v":1},{"t":"2016-02-15T17:22","e":"2016-02-16T18:11","h":19,"v":1},{"t":"2016-02-16T18:11","e":"2016-02-17T19:00","h":19,"v":1},{"t":"2016-02-17T19:00","e":"2016-02-18T19:49","h":19,"v":1},{"t":"2016-02-18T19:49","e":"2016-02-19T20:38","h":19,"v":2},{"t":"2016-02-19T20:38","e":"2016-02-20T21:27","h":19,"v":3},{"t":"2016-02-20T21:27","e":"2016-02-21T22:16","h":19,"v":12},{"t":"2016-02-21T22:16","e":"2016-02-22T23:05","h":19,"v":1},{"t":"2016-02-22T23:05","e":"2016-02-23T23:54","h":19,"v":0},{"t":"2016-02-23T23:54","e":"2016-02-25T00:43","h":19,"v":0},{"t":"2016-02-25T00:43","e":"2016-02-26T01:32","h":19,"v":3},{"t":"2016-02-26T01:32","e":"2016-02-27T02:21","h":19,"v":0},{"t":"2016-02-27T02:21","e":"2016-02-28T03:10","h":19,"v":0},{"t":"2016-02-28T03:10","e":"2016-02-29T03:59","h":19,"v":4},{"t":"2016-02-29T03:59","e":"2016-03-01T04:48","h":19,"v":6},{"t":"2016-03-01T04:48","e":"2016-03-02T05:37","h":19,"v":6},{"t":"2016-03-02T05:37","e":"2016-03-03T06:26","h":19,"v":1},{"t":"2016-03-03T06:26","e":"2016-03-04T07:15","h":19,"v":0},{"t":"2016-03-04T07:15","e":"2016-03-05T08:04","h":19,"v":27},{"t":"2016-03-05T08:04","e":"2016-03-06T08:53","h":19,"v":1},{"t":"2016-03-06T08:53","e":"2016-03-07T09:42","h":19,"v":0},
{"t":"2016-02-10T13:17","e":"2016-02-11T14:06","h":20,"v":0},{"t":"2016-02-11T14:06","e":"2016-02-12T14:55","h":20,"v":3},{"t":"2016-02-12T14:55","e":"2016-02-13T15:44","h":20,"v":0},{"t":"2016-02-13T15:44","e":"2016-02-14T16:33","h":20,"v":0},{"t":"2016-02-14T16:33","e":"2016-02-15T17:22","h":20,"v":2},{"t":"2016-02-15T17:22","e":"2016-02-16T18:11","h":20,"v":0},{"t":"2016-02-16T18:11","e":"2016-02-17T19:00","h":20,"v":3},{"t":"2016-02-17T19:00","e":"2016-02-18T19:49","h":20,"v":26},{"t":"2016-02-18T19:49","e":"2016-02-19T20:38","h":20,"v":1},{"t":"2016-02-19T20:38","e":"2016-02-20T21:27","h":20,"v":0},{"t":"2016-02-20T21:27","e":"2016-02-21T22:16","h":20,"v":0},{"t":"2016-02-21T22:16","e":"2016-02-22T23:05","h":20,"v":1},{"t":"2016-02-22T23:05","e":"2016-02-23T23:54","h":20,"v":0},{"t":"2016-02-23T23:54","e":"2016-02-25T00:43","h":20,"v":0},{"t":"2016-02-25T00:43","e":"2016-02-26T01:32","h":20,"v":8},{"t":"2016-02-26T01:32","e":"2016-02-27T02:21","h":20,"v":0},{"t":"2016-02-27T02:21","e":"2016-02-28T03:10","h":20,"v":12},{"t":"2016-02-28T03:10","e":"2016-02-29T03:59","h":20,"v":0},{"t":"2016-02-29T03:59","e":"2016-03-01T04:48","h":20,"v":19},{"t":"2016-03-01T04:48","e":"2016-03-02T05:37","h":20,"v":14},{"t":"2016-03-02T05:37","e":"2016-03-03T06:26","h":20,"v":3},{"t":"2016-03-03T06:26","e":"2016-03-04T07:15","h":20,"v":0},{"t":"2016-03-04T07:15","e":"2016-03-05T08:04","h":20,"v":13},{"t":"2016-03-05T08:04","e":"2016-03-06T08:53","h":20,"v":1},{"t":"2016-03-06T08:53","e":"2016-03-07T09:42","h":20,"v":2},
{"t":"2016-02-10T13:17","e":"2016-02-11T14:06","h":21,"v":0},{"t":"2016-02-11T14:06","e":"2016-02-12T14:55","h":21,"v":5},{"t":"2016-02-12T14:55","e":"2016-02-13T15:44","h":21,"v":0},{"t":"2016-02-13T15:44","e":"2016-02-14T16:33","h":21,"v":0},{"t":"2016-02-14T16:33","e":"2016-02-15T17:22","h":21,"v":0},{"t":"2016-02-15T17:22","e":"2016-02-16T18:11","h":21,"v":0},{"t":"2016-02-16T18:11","e":"2016-02-17T19:00","h":21,"v":21},{"t":"2016-02-17T19:00","e":"2016-02-18T19:49","h":21,"v":0},{"t":"2016-02-18T19:49","e":"2016-02-19T20:38","h":21,"v":0},{"t":"2016-02-19T20:38","e":"2016-02-20T21:27","h":21,"v":5},{"t":"2016-02-20T21:27","e":"2016-02-21T22:16","h":21,"v":0},{"t":"2016-02-21T22:16","e":"2016-02-22T23:05","h":21,"v":0},{"t":"2016-02-22T23:05","e":"2016-02-23T23:54","h":21,"v":0},{"t":"2016-02-23T23:54","e":"2016-02-25T00:43","h":21,"v":0},{"t":"2016-02-25T00:43","e":"2016-02-26T01:32","h":21,"v":0},{"t":"2016-02-26T01:32","e":"2016-02-27T02:21","h":21,"v":0},{"t":"2016-02-27T02:21","e":"2016-02-28T03:10","h":21,"v":0},{"t":"2016-02-28T03:10","e":"2016-02-29T03:59","h":21,"v":21},{"t":"2016-02-29T03:59","e":"2016-03-01T04:48","h":21,"v":15},{"t":"2016-03-01T04:48","e":"2016-03-02T05:37","h":21,"v":0},{"t":"2016-03-02T05:37","e":"2016-03-03T06:26","h":21,"v":0},{"t":"2016-03-03T06:26","e":"2016-03-04T07:15","h":21,"v":0},{"t":"2016-03-04T07:15","e":"2016-03-05T08:04","h":21,"v":1},{"t":"2016-03-05T08:04","e":"2016-03-06T08:53","h":21,"v":0},{"t":"2016-03-06T08:53","e":"2016-03-07T09:42","h":21,"v":2},
{"t":"2016-02-10T13:17","e":"2016-02-11T14:06","h":22,"v":0},{"t":"2016-02-11T14:06","e":"2016-02-12T14:55","h":22,"v":0},{"t":"2016-02-12T14:55","e":"2016-02-13T15:44","h":22,"v":6},{"t":"2016-02-13T15:44","e":"2016-02-14T16:33","h":22,"v":0},{"t":"2016-02-14T16:33","e":"2016-02-15T17:22","h":22,"v":0},{"t":"2016-02-15T17:22","e":"2016-02-16T18:11","h":22,"v":0},{"t":"2016-02-16T18:11","e":"2016-02-17T19:00","h":22,"v":0},{"t":"2016-02-17T19:00","e":"2016-02-18T19:49","h":22,"v":0},{"t":"2016-02-18T19:49","e":"2016-02-19T20:38","h":22,"v":0},{"t":"2016-02-19T20:38","e":"2016-02-20T21:27","h":22,"v":0},{"t":"2016-02-20T21:27","e":"2016-02-21T22:16","h":22,"v":0},{"t":"2016-02-21T22:16","e":"2016-02-22T23:05","h":22,"v":0},{"t":"2016-02-22T23:05","e":"2016-02-23T23:54","h":22,"v":0},{"t":"2016-02-23T23:54","e":"2016-02-25T00:43","h":22,"v":1},{"t":"2016-02-25T00:43","e":"2016-02-26T01:32","h":22,"v":2},{"t":"2016-02-26T01:32","e":"2016-02-27T02:21","h":22,"v":0},{"t":"2016-02-27T02:21","e":"2016-02-28T03:10","h":22,"v":6},{"t":"2016-02-28T03:10","e":"2016-02-29T03:59","h":22,"v":6},{"t":"2016-02-29T03:59","e":"2016-03-01T04:48","h":22,"v":0},{"t":"2016-03-01T04:48","e":"2016-03-02T05:37","h":22,"v":0},{"t":"2016-03-02T05:37","e":"2016-03-03T06:26","h":22,"v":0},{"t":"2016-03-03T06:26","e":"2016-03-04T07:15","h":22,"v":0},{"t":"2016-03-04T07:15","e":"2016-03-05T08:04","h":22,"v":8},{"t":"2016-03-05T08:04","e":"2016-03-06T08:53","h":22,"v":1},{"t":"2016-03-06T08:53","e":"2016-03-07T09:42","h":22,"v":1},
{"t":"2016-02-10T13:17","e":"2016-02-11T14:06","h":23,"v":0},{"t":"2016-02-11T14:06","e":"2016-02-12T14:55","h":23,"v":0},{"t":"2016-02-12T14:55","e":"2016-02-13T15:44","h":23,"v":0},{"t":"2016-02-13T15:44","e":"2016-02-14T16:33","h":23,"v":0},{"t":"2016-02-14T16:33","e":"2016-02-15T17:22","h":23,"v":0},{"t":"2016-02-15T17:22","e":"2016-02-16T18:11","h":23,"v":0},{"t":"2016-02-16T18:11","e":"2016-02-17T19:00","h":23,"v":5},{"t":"2016-02-17T19:00","e":"2016-02-18T19:49","h":23,"v":3},{"t":"2016-02-18T19:49","e":"2016-02-19T20:38","h":23,"v":6},{"t":"2016-02-19T20:38","e":"2016-02-20T21:27","h":23,"v":0},{"t":"2016-02-20T21:27","e":"2016-02-21T22:16","h":23,"v":0},{"t":"2016-02-21T22:16","e":"2016-02-22T23:05","h":23,"v":0},{"t":"2016-02-22T23:05","e":"2016-02-23T23:54","h":23,"v":0},{"t":"2016-02-23T23:54","e":"2016-02-25T00:43","h":23,"v":0},{"t":"2016-02-25T00:43","e":"2016-02-26T01:32","h":23,"v":0},{"t":"2016-02-26T01:32","e":"2016-02-27T02:21","h":23,"v":0},{"t":"2016-02-27T02:21","e":"2016-02-28T03:10","h":23,"v":0},{"t":"2016-02-28T03:10","e":"2016-02-29T03:59","h":23,"v":0},{"t":"2016-02-29T03:59","e":"2016-03-01T04:48","h":23,"v":9},{"t":"2016-03-01T04:48","e":"2016-03-02T05:37","h":23,"v":0},{"t":"2016-03-02T05:37","e":"2016-03-03T06:26","h":23,"v":0},{"t":"2016-03-03T06:26","e":"2016-03-04T07:15","h":23,"v":0},{"t":"2016-03-04T07:15","e":"2016-03-05T08:04","h":23,"v":0},{"t":"2016-03-05T08:04","e":"2016-03-06T08:53","h":23,"v":11},{"t":"2016-03-06T08:53","e":"2016-03-07T09:42","h":23,"v":0},
{"t":"2016-02-10T13:17","e":"2016-02-11T14:06","h":24,"v":0},{"t":"2016-02-11T14:06","e":"2016-02-12T14:55","h":24,"v":3},{"t":"2016-02-12T14:55","e":"2016-02-13T15:44","h":24,"v":0},{"t":"2016-02-13T15:44","e":"2016-02-14T16:33","h":24,"v":0},{"t":"2016-02-14T16:33","e":"2016-02-15T17:22","h":24,"v":0},{"t":"2016-02-15T17:22","e":"2016-02-16T18:11","h":24,"v":0},{"t":"2016-02-16T18:11","e":"2016-02-17T19:00","h":24,"v":0},{"t":"2016-02-17T19:00","e":"2016-02-18T19:49","h":24,"v":10},{"t":"2016-02-18T19:49","e":"2016-02-19T20:38","h":24,"v":2},{"t":"2016-02-19T20:38","e":"2016-02-20T21:27","h":24,"v":2},{"t":"2016-02-20T21:27","e":"2016-02-21T22:16","h":24,"v":2},{"t":"2016-02-21T22:16","e":"2016-02-22T23:05","h":24,"v":0},{"t":"2016-02-22T23:05","e":"2016-02-23T23:54","h":24,"v":16},{"t":"2016-02-23T23:54","e":"2016-02-25T00:43","h":24,"v":10},{"t":"2016-02-25T00:43","e":"2016-02-26T01:32","h":24,"v":1},{"t":"2016-02-26T01:32","e":"2016-02-27T02:21","h":24,"v":1},{"t":"2016-02-27T02:21","e":"2016-02-28T03:10","h":24,"v":0},{"t":"2016-02-28T03:10","e":"2016-02-29T03:59","h":24,"v":0},{"t":"2016-02-29T03:59","e":"2016-03-01T04:48","h":24,"v":0},{"t":"2016-03-01T04:48","e":"2016-03-02T05:37","h":24,"v":0},{"t":"2016-03-02T05:37","e":"2016-03-03T06:26","h":24,"v":0},{"t":"2016-03-03T06:26","e":"2016-03-04T07:15","h":24,"v":0},{"t":"2016-03-04T07:15","e":"2016-03-05T08:04","h":24,"v":0},{"t":"2016-03-05T08:04","e":"2016-03-06T08:53","h":24,"v":35},{"t":"2016-03-06T08:53","e":"2016-03-07T09:42","h":24,"v":0}
],
"lines":[{"s":"sunrise","t":"2016-02-11T01:35:00","y":3.6},{"s":"sunrise","t":"2016-02-23T12:00:00","y":3.85},{"s":"sunrise","t":"2016-03-07T09:42:00","y":4.1},{"s":"sunset","t":"2016-02-11T01:35:00","y":17.25},{"s":"sunset","t":"2016-02-23T12:00:00","y":17.0},{"s":"sunset","t":"2016-03-07T09:42:00","y":16.82}]},
"layer":[
{"data":{"values":[{"t":"2016-02-10T13:17","e":"2016-03-07T09:42","lo":0.5,"hi":24}]},
"mark":{"type":"rect","clip":true,"color":"#00008f"},
"encoding":{"x":{"field":"t","type":"temporal","axis":null},"x2":{"field":"e"},
"y":{"field":"lo","type":"quantitative","axis":{"title":"Time of day","titleFont":"Liberation Sans","titleFontSize":16.5,"titleFontWeight":"normal","titleColor":"#444","titlePadding":12,"values":[0,5,10,15,20],"labelFont":"Liberation Sans","labelFontSize":16,"labelColor":"#555","labelPadding":8,"grid":false,"domain":false,"tickColor":"#7d7d9a","tickSize":-6,"zindex":1}},"y2":{"field":"hi"}}},
{"data":{"name":"cells"},
"transform":[{"lookup":"h","from":{"data":{"name":"hours"},"key":"h","fields":["lo","hi"]}}],
"mark":{"type":"rect","clip":true},
"encoding":{
"x":{"field":"t","type":"temporal","scale":{"domain":["2016-02-10T13:17:00","2016-03-07T09:42:00"],"nice":false},
"axis":{"orient":"bottom","title":"Date and Time (NZST)","titleFont":"Liberation Sans","titleFontSize":18,"titleFontWeight":"normal","titleColor":"#444","titlePadding":6,
"values":["2016-02-15T04:59:00","2016-02-20T08:59:00","2016-02-25T12:59:00","2016-03-01T16:59:00","2016-03-06T20:59:00"],"format":"%d/%m/%y, %H:%M","labelFont":"Liberation Sans","labelFontSize":16,"labelColor":"#555","labelPadding":5,"labelOverlap":false,"labelFlush":false,"grid":false,"domain":false,"tickColor":"#444","tickSize":5,"tickOffset":-3.5,"labelOffset":3.5}},
"x2":{"field":"e"},
"y":{"field":"lo","type":"quantitative","scale":{"domain":[0,24],"reverse":true,"nice":false,"zero":false},
"axis":{"title":"Time of day","titleFont":"Liberation Sans","titleFontSize":16.5,"titleFontWeight":"normal","titleColor":"#444","titlePadding":12,"values":[0,5,10,15,20],"labelFont":"Liberation Sans","labelFontSize":16,"labelColor":"#555","labelPadding":8,"grid":false,"domain":false,"tickColor":"#7d7d9a","tickSize":-6,"zindex":1}},
"y2":{"field":"hi"},
"color":{"field":"v","type":"quantitative","scale":{"domain":[0,7.5,22.5,37.5,52.5,60],"range":["#00008f","#0000ff","#00ffff","#ffff00","#ff0000","#800000"],"clamp":true},
"legend":{"orient":"none","legendX":858,"legendY":0,"direction":"vertical","type":"gradient","gradientLength":597,"gradientThickness":33,"gradientStrokeColor":"#8a8a8a","gradientStrokeWidth":0.5,"values":[0,10,20,30,40,50,60],"labelFont":"Liberation Sans","labelFontSize":15.5,"labelColor":"#555","labelOffset":5,"encode":{"labels":{"update":{"baseline":{"value":"middle"}}},"title":{"update":{"angle":{"value":270}}}},"title":"No. of detections","titleOrient":"right","titleFont":"Liberation Sans","titleFontSize":14.5,"titleFontWeight":"normal","titleColor":"#444","titleAnchor":"middle","titleBaseline":"middle","titlePadding":15}}}},
{"data":{"name":"lines"},
"mark":{"type":"line","color":"white","strokeWidth":4,"clip":true,"strokeCap":"butt"},
"encoding":{"x":{"field":"t","type":"temporal","axis":{"orient":"top","title":null,"values":["2016-02-15T04:59:00","2016-02-20T08:59:00","2016-02-25T12:59:00","2016-03-01T16:59:00","2016-03-06T20:59:00"],"labels":false,"grid":false,"domain":false,"tickColor":"#777","tickSize":-8}},"y":{"field":"y","type":"quantitative"},"detail":{"field":"s"}}}
],
"resolve":{"axis":{"x":"independent"}}
}
